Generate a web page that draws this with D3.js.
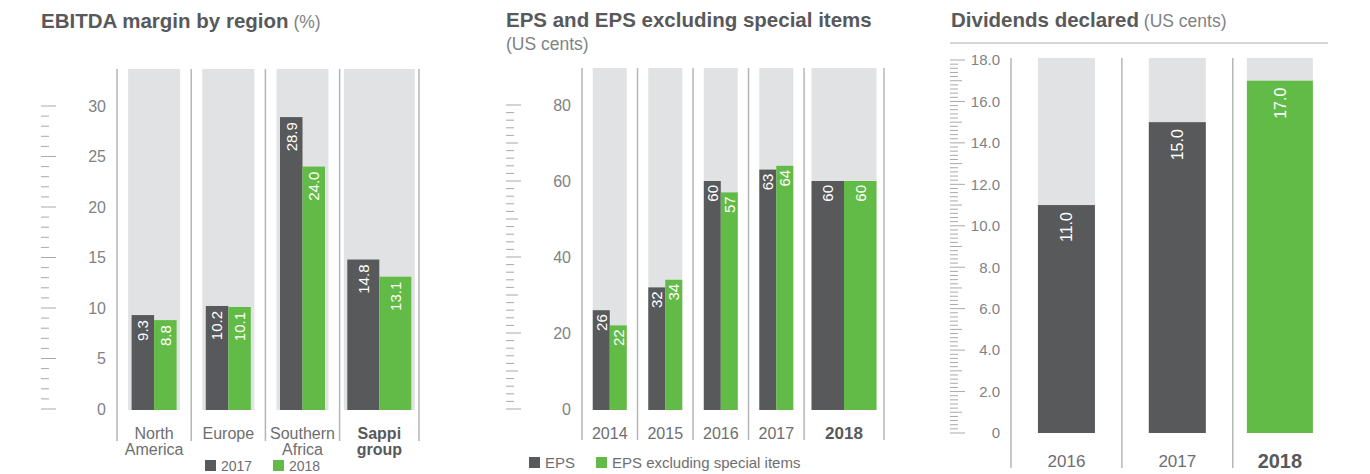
<!DOCTYPE html>
<html>
<head>
<meta charset="utf-8">
<script src="https://cdn.jsdelivr.net/npm/d3@7"></script>
<style>
  body { margin: 0; background: #fff; }
  svg { display: block; font-family: "Liberation Sans", Arial, sans-serif; }
</style>
</head>
<body>
<svg id="chart" width="1370" height="474"></svg>
<script>
// data
const regions = ["North America", "Europe", "Southern Africa", "Sappi group"];
const ebitda2017 = [9.3, 10.2, 28.9, 14.8];
const ebitda2018 = [8.8, 10.1, 24.0, 13.1];

const epsYears = ["2014", "2015", "2016", "2017", "2018"];
const eps = [26, 32, 60, 63, 60];
const epsExcl = [22, 34, 57, 64, 60];

const divYears = ["2016", "2017", "2018"];
const dividends = [11.0, 15.0, 17.0];

const dark = "#58595b", green = "#62bb46", panel = "#e1e2e3";
const titleCol = "#58595b", textCol = "#6d6e71", tickCol = "#808285", ruleCol = "#b5b6b8";

var svg = d3.select("#chart");

// slots of varying width: cumulative weights mapped through a linear scale
function slots(cats, weights, x0, x1) {
  var cum = [0];
  weights.forEach(function(w, i) { cum.push(cum[i] + w); });
  var s = d3.scaleLinear().domain([0, cum[cum.length - 1]]).range([x0, x1]);
  return cats.map(function(c, i) {
    return { cat: c, x0: s(cum[i]), x1: s(cum[i + 1]), cx: (s(cum[i]) + s(cum[i + 1])) / 2 };
  });
}

// ruler-like y axis: labelled majors, medium and minor ticks
function ruler(y, opt) {
  var g = svg.append("g");
  var ticks = d3.range(0, opt.max + opt.minor / 2, opt.minor);
  g.selectAll("line").data(ticks).enter().append("line")
    .attr("x1", opt.x)
    .attr("x2", function(d) {
      if (Math.abs(d / opt.major - Math.round(d / opt.major)) < 1e-6) return opt.x + 15;
      if (Math.abs(d / opt.medium - Math.round(d / opt.medium)) < 1e-6) return opt.x + 12;
      return opt.x + 8;
    })
    .attr("y1", function(d) { return y(d); })
    .attr("y2", function(d) { return y(d); })
    .attr("stroke", "#a7a9ac").attr("stroke-width", 1);

  var ax = svg.append("g")
    .attr("transform", "translate(" + opt.labelX + ",0)")
    .call(d3.axisLeft(y).tickValues(d3.range(0, opt.max + opt.major / 2, opt.major))
      .tickSize(0).tickPadding(0).tickFormat(opt.fmt));
  ax.select(".domain").remove();
  ax.selectAll("text").attr("fill", tickCol).style("font-size", opt.fs + "px")
    .style("font-family", "'Liberation Sans', Arial, sans-serif");
}

function separators(xs, top, bottom) {
  svg.append("g").selectAll("line").data(xs).enter().append("line")
    .attr("x1", function(d) { return d; }).attr("x2", function(d) { return d; })
    .attr("y1", top).attr("y2", bottom)
    .attr("stroke", ruleCol).attr("stroke-width", 1.5);
}

function valueLabel(g, cx, top, v, fmt, pad, fs) {
  g.append("text")
    .attr("transform", "translate(" + cx + "," + (top + pad) + ") rotate(-90)")
    .attr("text-anchor", "end").attr("dy", "0.36em")
    .attr("fill", "#fff").style("font-size", (fs || 15) + "px")
    .text(fmt(v));
}

function title(x, y, bold, light) {
  var t = svg.append("text").attr("x", x).attr("y", y).style("font-size", "20.5px");
  t.append("tspan").attr("font-weight", "bold").attr("fill", titleCol).text(bold);
  if (light) t.append("tspan").attr("fill", tickCol).style("font-size", "17.5px").text(" " + light);
}

function legendItem(x, y, col, label, fs) {
  svg.append("rect").attr("x", x).attr("y", y - 11).attr("width", 11).attr("height", 11).attr("fill", col);
  svg.append("text").attr("x", x + 16).attr("y", y).attr("fill", textCol)
    .style("font-size", (fs || 15) + "px").text(label);
}

// ---------------- EBITDA margin by region ----------------
(function() {
  title(41, 28, "EBITDA margin by region", "(%)");
  var y = d3.scaleLinear().domain([0, 30]).range([409, 106]);
  ruler(y, { x: 41, labelX: 106, max: 30, major: 5, medium: 5, minor: 1, fs: 16, fmt: d3.format("d") });

  var s = slots(regions, [1, 1, 1, 1.07], 117, 419);
  separators(s.map(function(d) { return d.x0; }).concat([419]), 69, 441);

  var g = svg.append("g");
  s.forEach(function(d, i) {
    var last = i === regions.length - 1;
    var pw = last ? 71 : 52;
    g.append("rect").attr("x", d.cx - pw / 2).attr("y", 69).attr("width", pw)
      .attr("height", y(0) + 1 - 69).attr("fill", panel);
    var bw = (pw - 7) / 2;
    var bx = d3.scaleBand().domain(["2017", "2018"]).range([d.cx - bw, d.cx + bw]);
    [[ebitda2017[i], dark, "2017"], [ebitda2018[i], green, "2018"]].forEach(function(b) {
      g.append("rect").attr("x", bx(b[2])).attr("y", y(b[0]))
        .attr("width", bx.bandwidth()).attr("height", y(0) - y(b[0]) + 1).attr("fill", b[1]);
      valueLabel(g, bx(b[2]) + bx.bandwidth() / 2, y(b[0]), b[0], d3.format(".1f"), 5);
    });
    var words = d.cat.split(" ");
    var t = g.append("text").attr("x", d.cx).attr("y", 439).attr("text-anchor", "middle")
      .style("font-size", "16px")
      .attr("font-weight", last ? "bold" : null)
      .attr("fill", last ? titleCol : textCol);
    words.forEach(function(w, k) {
      t.append("tspan").attr("x", d.cx).attr("dy", k === 0 ? 0 : 16).text(w);
    });
  });

  legendItem(205, 471, dark, "2017", 14);
  legendItem(273, 471, green, "2018", 14);
})();

// ---------------- EPS and EPS excluding special items ----------------
(function() {
  title(506, 27, "EPS and EPS excluding special items");
  svg.append("text").attr("x", 506).attr("y", 50).attr("fill", tickCol)
    .style("font-size", "17.5px").text("(US cents)");
  var y = d3.scaleLinear().domain([0, 80]).range([409, 105]);
  ruler(y, { x: 506, labelX: 571, max: 80, major: 20, medium: 10, minor: 2, fs: 16, fmt: d3.format("d") });

  var s = slots(epsYears, [1, 1, 1, 1, 1.44], 582, 884);
  separators(s.map(function(d) { return d.x0; }).concat([884]), 68, 440);

  var g = svg.append("g");
  s.forEach(function(d, i) {
    var last = i === epsYears.length - 1;
    var pw = last ? 65 : 34;
    g.append("rect").attr("x", d.cx - pw / 2).attr("y", 68).attr("width", pw)
      .attr("height", y(0) + 1 - 68).attr("fill", panel);
    var bx = d3.scaleBand().domain(["EPS", "excl"]).range([d.cx - pw / 2, d.cx + pw / 2]);
    [[eps[i], dark, "EPS"], [epsExcl[i], green, "excl"]].forEach(function(b) {
      g.append("rect").attr("x", bx(b[2])).attr("y", y(b[0]))
        .attr("width", bx.bandwidth()).attr("height", y(0) - y(b[0]) + 1).attr("fill", b[1]);
      valueLabel(g, bx(b[2]) + bx.bandwidth() / 2, y(b[0]), b[0], d3.format("d"), 4);
    });
    g.append("text").attr("x", d.cx).attr("y", 439).attr("text-anchor", "middle")
      .style("font-size", last ? "17px" : "16px")
      .attr("font-weight", last ? "bold" : null)
      .attr("fill", last ? titleCol : textCol).text(d.cat);
  });

  legendItem(529, 468, dark, "EPS");
  legendItem(596, 468, green, "EPS excluding special items");
})();

// ---------------- Dividends declared ----------------
(function() {
  title(951, 27, "Dividends declared", "(US cents)");
  svg.append("line").attr("x1", 950).attr("x2", 1328).attr("y1", 43).attr("y2", 43)
    .attr("stroke", "#c7c8ca").attr("stroke-width", 1.5);
  var y = d3.scaleLinear().domain([0, 18]).range([433, 60]);
  ruler(y, { x: 950, labelX: 1000, max: 18, major: 2, medium: 1, minor: 0.2, fs: 15,
    fmt: function(d) { return d === 0 ? "0" : d3.format(".1f")(d); } });

  var s = slots(divYears, [1, 1, 0.85], 1011, 1327);
  separators(s.map(function(d) { return d.x0; }), 58, 468);

  var g = svg.append("g");
  s.forEach(function(d, i) {
    var last = i === divYears.length - 1;
    var pw = last ? 66 : 57;
    g.append("rect").attr("x", d.cx - pw / 2).attr("y", 58).attr("width", pw)
      .attr("height", y(0) - 58).attr("fill", panel);
    g.append("rect").attr("x", d.cx - pw / 2).attr("y", y(dividends[i]))
      .attr("width", pw).attr("height", y(0) - y(dividends[i])).attr("fill", last ? green : dark);
    valueLabel(g, d.cx, y(dividends[i]), dividends[i], d3.format(".1f"), 7, 16);
    g.append("text").attr("x", d.cx).attr("y", last ? 468 : 467).attr("text-anchor", "middle")
      .style("font-size", last ? "20px" : "17px")
      .attr("font-weight", last ? "bold" : null)
      .attr("fill", last ? titleCol : textCol).text(d.cat);
  });
})();
</script>
</body>
</html>
